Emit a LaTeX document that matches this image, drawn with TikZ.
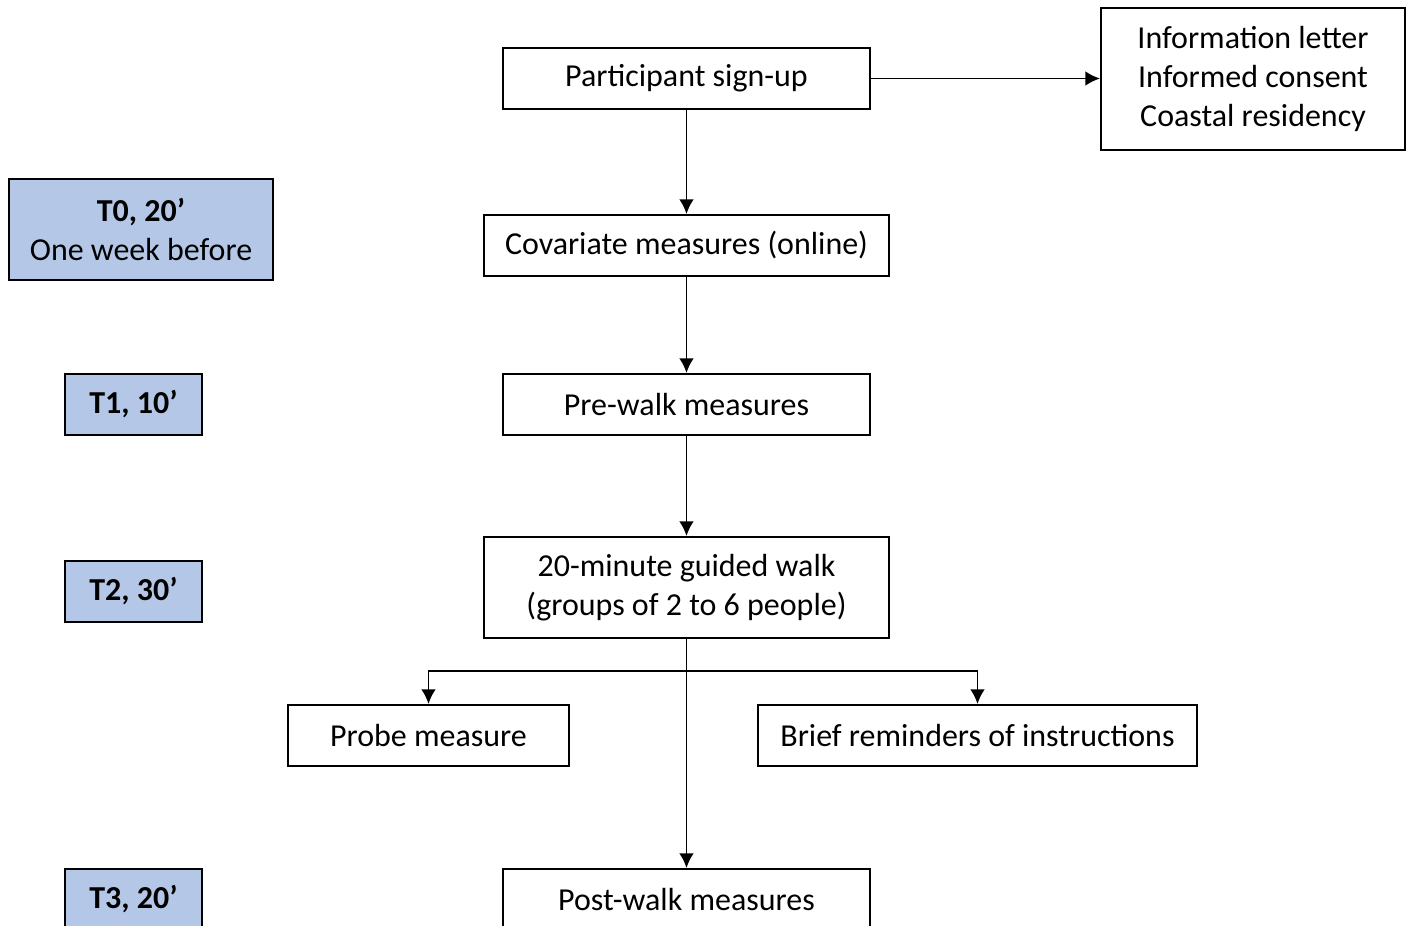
\documentclass[tikz,border=0pt]{standalone}
\usepackage{fontspec}
\setmainfont{Carlito}
\usetikzlibrary{positioning}
\usetikzlibrary{arrows.meta}
\definecolor{timeblue}{HTML}{B4C7E7}
\newdimen\px
\px=0.344pt

\begin{document}
\begin{tikzpicture}[x=1\px, y=-1\px,
                        every node/.style={draw, line width=0.7pt, inner sep=0pt, align=center,
                                           font=\fontsize{11}{13.4}\selectfont},
                        box/.style={minimum width=367\px, minimum height=61\px},
                        widebox/.style={minimum width=405\px, minimum height=61\px},
                        timebox/.style={fill=timeblue, minimum width=137\px, minimum height=61\px,
                                        font=\fontsize{11}{13.4}\selectfont\bfseries},
                        link/.style={draw, line width=0.65pt, -{Latex[length=5pt, width=5pt]}}]
        \useasboundingbox (0,0) rectangle (1409,926);
        \node[box] (signup) at (686.5,78.5) {Participant sign-up};
        \node[minimum width=304\px, minimum height=142\px] (info) at (1253,79)
            {Information letter\\Informed consent\\Coastal residency};
        \node[widebox] (covariate) at (686.5,245.5) {Covariate measures (online)};
        \node[box] (prewalk) at (686.5,404.5) {Pre-walk measures};
        \node[widebox, minimum height=101\px] (walk) at (686.5,587.5)
            {20-minute guided walk\\(groups of 2 to 6 people)};
        \node[minimum width=281\px, minimum height=61\px] (probe) at (428.5,735.5) {Probe measure};
        \node[minimum width=439\px, minimum height=61\px] (brief) at (977.5,735.5)
            {Brief reminders of instructions};
        \node[box] (postwalk) at (686.5,899.5) {Post-walk measures};

        \node[timebox, minimum width=264\px, minimum height=101\px] (t0) at (141,229.5)
            {T0, 20’\\\mdseries One week before};
        \node[timebox] (t1) at (133.5,404.5) {T1, 10’};
        \node[timebox] (t2) at (133.5,591.5) {T2, 30’};
        \node[timebox] (t3) at (133.5,899.5) {T3, 20’};

        \coordinate (split) at (686.5,671);
        \draw[link] (signup.east) -- (signup.east -| info.west);
        \draw[link] (signup) -- (covariate);
        \draw[link] (covariate) -- (prewalk);
        \draw[link] (prewalk) -- (walk);
        \draw[link] (walk) -- (postwalk);
        \draw[link] (split) -| (probe.north);
        \draw[link] (split) -| (brief.north);
    \end{tikzpicture}
\end{document}
